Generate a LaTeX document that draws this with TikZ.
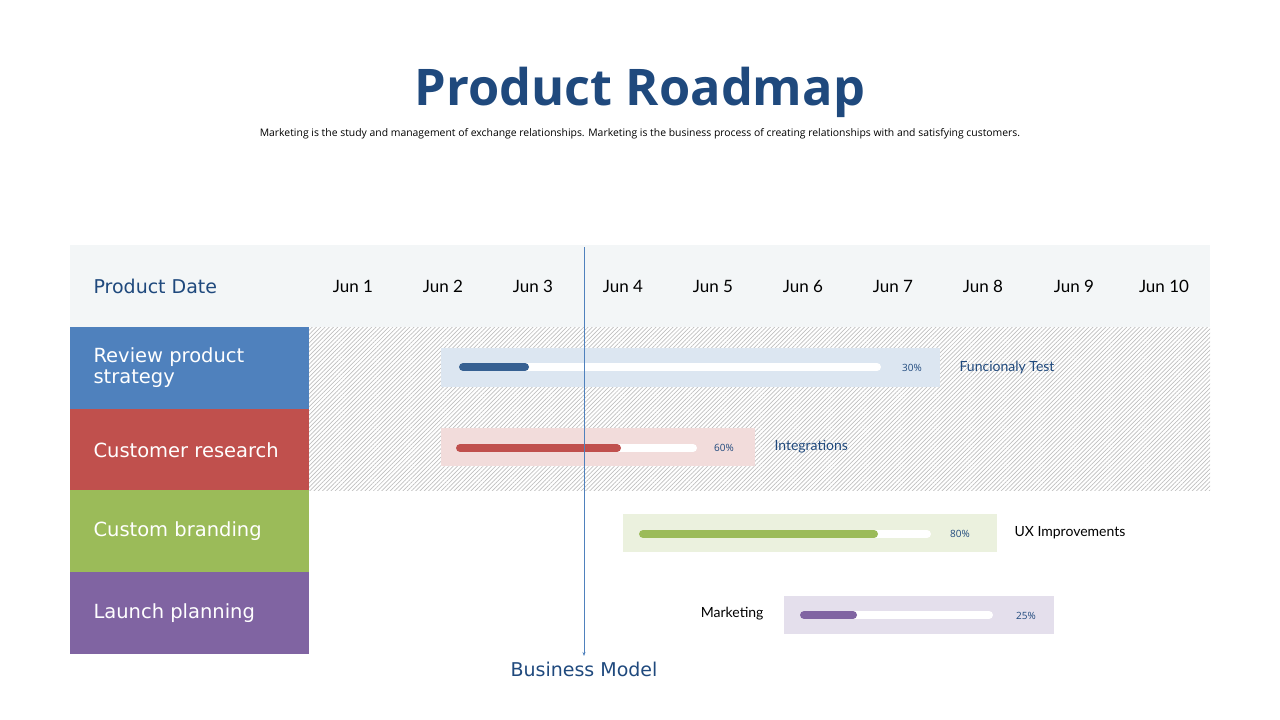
\documentclass[tikz,border=0pt]{standalone}
\usepackage{fontspec}
\setmainfont{Open Sans}
\newfontfamily\lato{Lato}
\newfontfamily\fira{DejaVu Sans}
\usetikzlibrary{patterns.meta,arrows.meta}
\definecolor{navy}{HTML}{1F497D}
\definecolor{hdr}{HTML}{F3F6F7}
\definecolor{cb}{HTML}{4F81BD}\definecolor{cr}{HTML}{C0504D}
\definecolor{cg}{HTML}{9BBB59}\definecolor{cp}{HTML}{8064A2}
\definecolor{bb}{HTML}{DCE6F1}\definecolor{br}{HTML}{F2DCDB}
\definecolor{bg}{HTML}{EBF1DE}\definecolor{bp}{HTML}{E4DFEC}
\definecolor{fb}{HTML}{366092}
\begin{document}
\begin{tikzpicture}[x=1pt,y=-1pt,
 row/.style={anchor=west,text=white,font=\fira\fontsize{19.5}{23}\selectfont,align=left},
 date/.style={font=\lato\fontsize{17}{20}\selectfont},
 pct/.style={font=\fontsize{10}{12}\selectfont,text=navy},
 lab/.style={font=\lato\fontsize{14}{17}\selectfont},
 track/.style={line width=8pt,line cap=round,white},
]
\useasboundingbox (0,0) rectangle (1280,720);
\node (title) at (640,92) {\fontsize{50.5}{60}\selectfont\bfseries\color{navy}Product Roadmap};
\node (sub) at (640,134) {\fontsize{10.4}{12}\selectfont Marketing is the study and management of exchange relationships. Marketing is the business process of creating relationships with and satisfying customers.};
\fill[hdr] (70,245) rectangle (1210,327);
\node[anchor=west,text=navy,font=\fira\fontsize{19}{23}\selectfont] (pd) at (90,286) {Product Date};
\foreach \x/\n in {353/1,443/2,533/3,623/4,713/5,803/6,893/7,983/8,1074/9,1164/10}
  \node[date] (d\n) at (\x,286) {Jun \n};
\fill[cb] (70,327) rectangle (309,409);
\fill[cr] (70,409) rectangle (309,490);
\fill[cg] (70,490) rectangle (309,572);
\fill[cp] (70,572) rectangle (309,654);
\node[row] (r1) at (90,368) {Review product\\[-2pt]strategy};
\node[row] (r2) at (90,450) {Customer research};
\node[row] (r3) at (90,531) {Custom branding};
\node[row] (r4) at (90,613) {Launch planning};
\fill[pattern={Lines[angle=45,distance=3pt,line width=0.7pt]},pattern color=black!25] (309,327) rectangle (1210,490);
% bars
\fill[bb] (441,348) rectangle (940,387);
\draw[track] (463,367) -- (877,367); \draw[track,fb] (463,367) -- (525,367);
\node[pct] (p1) at (912,368) {30\%};
\node[lab,anchor=west,text=navy] (l1) at (956,368) {Funcionaly Test};
\fill[br] (441,428) rectangle (755,466);
\draw[track] (460,448) -- (693,448); \draw[track,cr] (460,448) -- (617,448);
\node[pct] (p2) at (724,448) {60\%};
\node[lab,anchor=west,text=navy] (l2) at (771,447) {Integrations};
\fill[bg] (623,514) rectangle (997,552);
\draw[track] (643,534) -- (927,534); \draw[track,cg] (643,534) -- (874,534);
\node[pct] (p3) at (960,534) {80\%};
\node[lab,anchor=west] (l3) at (1011,533) {UX Improvements};
\fill[bp] (784,596) rectangle (1054,634);
\draw[track] (804,615) -- (989,615); \draw[track,cp] (804,615) -- (853,615);
\node[pct] (p4) at (1026,616) {25\%};
\node[lab,anchor=east] (l4) at (767,614) {Marketing};
\coordinate (vt) at (584,247);
\coordinate (vb) at (584,656);
\draw[cb,line width=0.8pt,-{Stealth[length=4pt,width=3pt]}] (vt) -- (vb);
\node[text=navy,font=\fira\fontsize{19}{23}\selectfont] (bm) at (584,669) {Business Model};
\end{tikzpicture}
\end{document}
